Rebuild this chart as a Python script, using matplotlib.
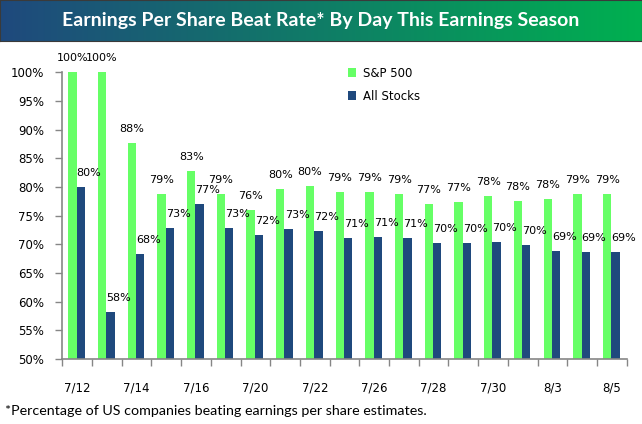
import matplotlib.pyplot as plt
import numpy as np
from matplotlib.colors import LinearSegmentedColormap

# Données
days = ["7/12", "7/13", "7/14", "7/15", "7/16", "7/19", "7/20", "7/21", "7/22", "7/23",
        "7/26", "7/27", "7/28", "7/29", "7/30", "8/2", "8/3", "8/4", "8/5"]
sp500 = [100, 100, 87.6, 78.7, 82.7, 78.7, 75.9, 79.7, 80.2, 79.2,
         79.2, 78.8, 77.1, 77.3, 78.4, 77.6, 77.95, 78.7, 78.7]
all_stocks = [80, 58.2, 68.3, 72.9, 77.1, 72.9, 71.6, 72.6, 72.3, 71.1,
              71.3, 71.1, 70.2, 70.2, 70.4, 69.9, 68.9, 68.7, 68.6]
yticks = np.arange(50, 101, 5)

green = "#66FF66"
navy = "#1F497D"

fig = plt.figure(figsize=(6.42, 4.24), dpi=100)

# Bandeau du titre en dégradé
banner = fig.add_axes([0, 1 - 41 / 424, 1, 41 / 424])
cmap = LinearSegmentedColormap.from_list("banner", ["#1F497D", "#00B050"])
banner.imshow(np.linspace(0, 1, 256).reshape(1, -1), aspect="auto", cmap=cmap,
              extent=[0, 1, 0, 1])
banner.set_xlim(0, 1)
banner.set_ylim(0, 1)
banner.set_xticks([])
banner.set_yticks([])
for s in banner.spines.values():
    s.set_color("#3a3a3a")
    s.set_linewidth(0.8)
banner.text(0.5, 0.5, "Earnings Per Share Beat Rate* By Day This Earnings Season",
            color="white", fontsize=14, fontweight="bold", family="Lato",
            ha="center", va="center")

# Graphique principal
ax = fig.add_axes([62.3 / 642, 1 - 359 / 424, (626.7 - 62.3) / 642, (359 - 72.3) / 424])
x = np.arange(len(days))
w = 0.28
off = 0.02
ax.bar(x - w / 2 - off, sp500, width=w, color=green, label="S&P 500")
ax.bar(x + w / 2 - off, all_stocks, width=w, color=navy, label="All Stocks")

for i in range(len(days)):
    ax.annotate(f"{sp500[i]:.0f}%", (x[i] - w / 2 - off, sp500[i]), xytext=(0, 6.5),
                textcoords="offset points", ha="center", va="bottom", fontsize=8)
    ax.annotate(f"{all_stocks[i]:.0f}%", (x[i] + w / 2 - off, all_stocks[i]), xytext=(6, 6.5),
                textcoords="offset points", ha="center", va="bottom", fontsize=8)

ax.set_xlim(-0.5, len(days) - 0.5)
ax.set_ylim(50, 100)
ax.set_yticks(yticks)
ax.set_yticklabels([f"{v}%" for v in yticks], fontsize=8.5)
ax.set_xticks(x[::2])
ax.set_xticklabels(days[::2], fontsize=8.5)
ax.set_xticks(np.arange(-0.5, len(days)), minor=True)
ax.tick_params(axis="x", which="major", length=0, pad=16)
ax.tick_params(axis="x", which="minor", length=5, color="#868686", width=1)
ax.tick_params(axis="y", length=5, color="#868686", width=1, pad=8)

for side in ["top", "right"]:
    ax.spines[side].set_visible(False)
for side in ["left", "bottom"]:
    ax.spines[side].set_color("#868686")
    ax.spines[side].set_linewidth(1.2)

ax.legend(loc="upper left", bbox_to_anchor=(337 / 642, 1 - 56 / 424),
          bbox_transform=fig.transFigure, frameon=False, fontsize=8.5,
          handlelength=0.7, handleheight=0.7, handletextpad=0.6, labelspacing=0.85)

fig.text(5 / 642, 1 - 411 / 424, "*Percentage of US companies beating earnings per share estimates.",
         fontsize=10.3, family="Lato", va="center")

plt.savefig("out.png", dpi=100)
